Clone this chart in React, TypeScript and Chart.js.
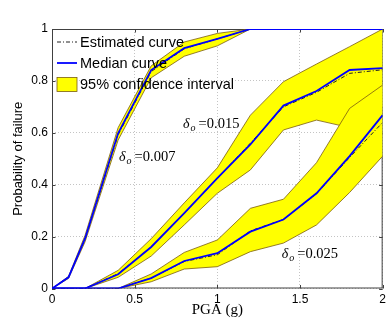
import React, { useEffect, useRef } from "react";
import { Chart, registerables } from "chart.js";

Chart.register(...registerables);

// ---------- data ----------
const PGA = [0, 0.1, 0.2, 0.4, 0.6, 0.8, 1.0, 1.2, 1.4, 1.6, 1.8, 2.0];

const MED_007 = [0, 0.043, 0.193, 0.598, 0.842, 0.926, 0.962, 1, 1, 1, 1, 1];
const EST_007 = [0, 0.045, 0.19, 0.592, 0.836, 0.924, 0.962, 1, 1, 1, 1, 1];
const UP_007 = [0, 0.047, 0.205, 0.62, 0.858, 0.95, 0.983, 1, 1, 1, 1, 1];
const LO_007 = [0, 0.039, 0.18, 0.572, 0.812, 0.895, 0.935, 1, 1, 1, 1, 1];

const MED_015 = [0, 0, 0, 0.055, 0.16, 0.29, 0.425, 0.555, 0.705, 0.761, 0.842, 0.849];
const EST_015 = [0, 0, 0, 0.057, 0.16, 0.29, 0.425, 0.56, 0.7, 0.756, 0.829, 0.843];
const UP_015 = [0, 0, 0, 0.07, 0.192, 0.33, 0.465, 0.668, 0.797, 0.865, 0.932, 1.0];
const LO_015 = [0, 0, 0, 0.043, 0.125, 0.245, 0.367, 0.457, 0.611, 0.649, 0.62, 0.7];

const MED_025 = [0, 0, 0, 0, 0.04, 0.106, 0.136, 0.219, 0.266, 0.367, 0.51, 0.668];
const EST_025 = [0, 0, 0, 0, 0.04, 0.104, 0.13, 0.222, 0.266, 0.365, 0.505, 0.64];
const UP_025 = [0, 0, 0, 0, 0.056, 0.139, 0.187, 0.309, 0.344, 0.485, 0.694, 0.784];
const LO_025 = [0, 0, 0, 0, 0.026, 0.075, 0.084, 0.142, 0.175, 0.245, 0.37, 0.51];

const X_TICKS = [0, 0.5, 1, 1.5, 2];
const X_TICK_LABELS = ["0", "0.5", "1", "1.5", "2"];
const Y_TICKS = [0, 0.2, 0.4, 0.6, 0.8, 1];
const Y_TICK_LABELS = ["0", "0.2", "0.4", "0.6", "0.8", "1"];

const LEGEND_LABELS = ["Estimated curve", "Median curve", "95% confidence interval"];
const DELTA_LABELS = ["0.007", "0.015", "0.025"];
const X_TITLE = "PGA (g)";
const Y_TITLE = "Probability of failure";

// ---------- styles ----------
const BLUE = "#0000ff";
const EST_COLOR = "#222222";
const EST_DASH = [4, 2, 1, 2];
const BAND_FILL = "#ffff00";
const BAND_EDGE = "#7a5c10";
const SANS = '"Liberation Sans", Arial, sans-serif';
const SERIF = '"Liberation Serif", "Times New Roman", serif';

// annotation anchors in data coordinates (x, y of baseline start)
const DELTA_POS = [
  { x: 0.406, y: 0.493 },
  { x: 0.793, y: 0.617 },
  { x: 1.39, y: 0.116 },
];

const pts = (arr: number[]) => PGA.map((x, i) => ({ x, y: arr[i] }));

const lineDs = (label: string, arr: number[], color: string, width: number, dash: number[] = []) => ({
  label,
  data: pts(arr),
  borderColor: color,
  backgroundColor: color,
  borderWidth: width,
  borderDash: dash,
  pointRadius: 0,
  pointHoverRadius: 0,
  tension: 0,
  fill: false,
});

const fillDs = (label: string, arr: number[], fill: any) => ({
  label,
  data: pts(arr),
  borderColor: "rgba(0,0,0,0)",
  backgroundColor: BAND_FILL,
  borderWidth: 0,
  pointRadius: 0,
  pointHoverRadius: 0,
  tension: 0,
  fill,
});

const overlayPlugin = {
  id: "overlay",
  beforeDatasetsDraw(chart: any) {
    const { ctx, chartArea: a, scales } = chart;
    const xs = scales.x;
    const ys = scales.y;
    ctx.save();
    ctx.strokeStyle = "#404040";
    ctx.lineWidth = 1;
    ctx.strokeRect(a.left + 0.5, a.top + 0.5, a.right - a.left - 1, a.bottom - a.top - 1);
    const tl = 3.5;
    ctx.beginPath();
    X_TICKS.forEach((v) => {
      const px = Math.round(xs.getPixelForValue(v)) + 0.5;
      ctx.moveTo(px, a.bottom);
      ctx.lineTo(px, a.bottom - tl);
      ctx.moveTo(px, a.top);
      ctx.lineTo(px, a.top + tl);
    });
    Y_TICKS.forEach((v) => {
      const py = Math.round(ys.getPixelForValue(v)) + 0.5;
      ctx.moveTo(a.left, py);
      ctx.lineTo(a.left + tl, py);
      ctx.moveTo(a.right, py);
      ctx.lineTo(a.right - tl, py);
    });
    ctx.stroke();
    ctx.restore();
  },
  afterDatasetsDraw(chart: any) {
    const { ctx, chartArea: a, scales } = chart;
    const xs = scales.x;
    const ys = scales.y;
    ctx.save();
    // annotations
    DELTA_LABELS.forEach((t, i) => {
      const px = xs.getPixelForValue(DELTA_POS[i].x);
      const py = ys.getPixelForValue(DELTA_POS[i].y);
      ctx.fillStyle = "#000";
      ctx.textAlign = "left";
      ctx.textBaseline = "alphabetic";
      ctx.font = `italic 14px ${SERIF}`;
      ctx.fillText("δ", px, py);
      ctx.font = `italic 10px ${SERIF}`;
      ctx.fillText("o", px + 7.5, py + 3);
      ctx.font = `14.5px ${SERIF}`;
      ctx.fillText("=" + t, px + 15.5, py);
    });
    // legend
    const lx = a.left + 5;
    const lw = 20;
    const rows = [a.top + 13, a.top + 34, a.top + 55.5];
    ctx.lineCap = "butt";
    // estimated
    ctx.strokeStyle = EST_COLOR;
    ctx.lineWidth = 1;
    ctx.setLineDash(EST_DASH);
    ctx.beginPath();
    ctx.moveTo(lx, rows[0]);
    ctx.lineTo(lx + lw, rows[0]);
    ctx.stroke();
    ctx.setLineDash([]);
    // median
    ctx.strokeStyle = BLUE;
    ctx.lineWidth = 1.8;
    ctx.beginPath();
    ctx.moveTo(lx, rows[1]);
    ctx.lineTo(lx + lw, rows[1]);
    ctx.stroke();
    // band
    ctx.fillStyle = BAND_FILL;
    ctx.fillRect(lx, rows[2] - 7, lw, 14);
    ctx.strokeStyle = BAND_EDGE;
    ctx.lineWidth = 0.8;
    ctx.strokeRect(lx, rows[2] - 7, lw, 14);
    ctx.fillStyle = "#000";
    ctx.font = `14.5px ${SANS}`;
    ctx.textBaseline = "middle";
    LEGEND_LABELS.forEach((t, i) => ctx.fillText(t, lx + lw + 3, rows[i] + 0.5));
    ctx.restore();
  },
};

export default function App() {
  const ref = useRef<HTMLCanvasElement | null>(null);

  useEffect(() => {
    if (!ref.current) return;
    const datasets: any[] = [
      lineDs("Median 0.007", MED_007, BLUE, 1.8),
      lineDs("Median 0.015", MED_015, BLUE, 1.8),
      lineDs("Median 0.025", MED_025, BLUE, 1.8),
      lineDs("Estimated 0.007", EST_007, EST_COLOR, 1, EST_DASH),
      lineDs("Estimated 0.015", EST_015, EST_COLOR, 1, EST_DASH),
      lineDs("Estimated 0.025", EST_025, EST_COLOR, 1, EST_DASH),
      lineDs("Upper 0.025", UP_025, BAND_EDGE, 0.8),
      lineDs("Lower 0.025", LO_025, BAND_EDGE, 0.8),
      fillDs("CI 0.025", UP_025, "+1"),
      fillDs("CI lo 0.025", LO_025, false),
      lineDs("Upper 0.015", UP_015, BAND_EDGE, 0.8),
      lineDs("Lower 0.015", LO_015, BAND_EDGE, 0.8),
      fillDs("CI 0.015", UP_015, "+1"),
      fillDs("CI lo 0.015", LO_015, false),
      lineDs("Upper 0.007", UP_007, BAND_EDGE, 0.8),
      lineDs("Lower 0.007", LO_007, BAND_EDGE, 0.8),
      fillDs("CI 0.007", UP_007, "+1"),
      fillDs("CI lo 0.007", LO_007, false),
    ];

    const chart = new Chart(ref.current, {
      type: "line",
      data: { datasets },
      options: {
        animation: false,
        responsive: false,
        devicePixelRatio: 1,
        events: [],
        layout: { padding: { top: 29, right: 7, left: 0, bottom: 0 } },
        plugins: {
          legend: { display: false },
          tooltip: { enabled: false },
        },
        scales: {
          x: {
            type: "linear",
            min: 0,
            max: 2,
            afterBuildTicks: (s: any) => {
              s.ticks = X_TICKS.map((v) => ({ value: v }));
            },
            afterFit: (s: any) => {
              s.height = 35.5;
            },
            ticks: {
              callback: (_v: any, i: number) => X_TICK_LABELS[i],
              font: { family: SANS, size: 12 },
              color: "#000",
              padding: 4,
              maxRotation: 0,
              autoSkip: false,
            },
            grid: { color: "#c4c4c4", lineWidth: 1, drawTicks: false },
            border: { display: false, dash: [1, 2] },
            title: {
              display: true,
              text: X_TITLE,
              font: { family: SERIF, size: 15 },
              color: "#000",
              padding: { top: 0, bottom: 5 },
            },
          },
          y: {
            type: "linear",
            min: 0,
            max: 1,
            afterBuildTicks: (s: any) => {
              s.ticks = Y_TICKS.map((v) => ({ value: v }));
            },
            afterFit: (s: any) => {
              s.width = 52;
            },
            ticks: {
              callback: (_v: any, i: number) => Y_TICK_LABELS[i],
              font: { family: SANS, size: 12 },
              color: "#000",
              padding: 4,
              autoSkip: false,
            },
            grid: { color: "#c4c4c4", lineWidth: 1, drawTicks: false },
            border: { display: false, dash: [1, 2] },
            title: {
              display: true,
              text: Y_TITLE,
              font: { family: SANS, size: 13 },
              color: "#000",
              padding: { top: 10.5, bottom: 0 },
            },
          },
        },
      } as any,
      plugins: [overlayPlugin as any],
    });
    return () => chart.destroy();
  }, []);

  return (
    <div style={{ position: "absolute", left: 0, top: 0, width: 390, height: 324, background: "#fff" }}>
      <canvas ref={ref} width={390} height={324} style={{ display: "block" }} />
    </div>
  );
}
